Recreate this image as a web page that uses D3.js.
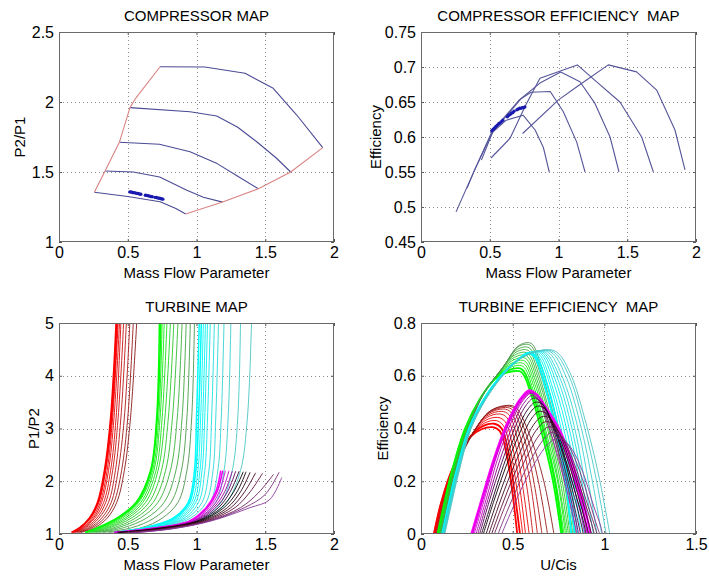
<!DOCTYPE html>
<html>
<head>
<meta charset="utf-8">
<script src="https://cdn.jsdelivr.net/npm/d3@7"></script>
<style>
  body { margin: 0; background: #fff; }
  text { font-family: "Liberation Sans", Arial, Helvetica, sans-serif; fill: #000; }
</style>
</head>
<body>
<svg id="fig" width="709" height="578"></svg>
<script>
// ---------------- Compressor map ----------------
const compSurge = [[0.257,1.355],[0.335,1.507],[0.439,1.712],[0.516,1.96],[0.56,2.03],[0.735,2.252]];
const compChoke = [[0.921,1.2],[1.19,1.285],[1.45,1.38],[1.685,1.5],[1.918,1.674]];
const compSpeedLines = [
  [[0.257,1.355],[0.50,1.325],[0.735,1.288],[0.85,1.24],[0.921,1.2]],
  [[0.335,1.507],[0.54,1.5],[0.732,1.464],[0.93,1.37],[1.05,1.32],[1.19,1.285]],
  [[0.439,1.712],[0.73,1.698],[0.953,1.645],[1.15,1.56],[1.30,1.47],[1.45,1.38]],
  [[0.516,1.96],[0.953,1.93],[1.147,1.9],[1.30,1.82],[1.438,1.716],[1.58,1.6],[1.685,1.5]],
  [[0.735,2.252],[1.06,2.25],[1.353,2.205],[1.558,2.098],[1.729,1.907],[1.918,1.674]]
];
const compOpX = [0.515,0.525,0.535,0.545,0.555,0.565,0.575,0.585,0.595,0.628,0.638,0.648,0.658,0.668,0.678,0.698,0.708,0.718,0.728,0.738,0.748,0.755];
const compOpPR = [1.358,1.357,1.354,1.352,1.351,1.347,1.346,1.343,1.341,1.334,1.333,1.330,1.328,1.325,1.323,1.319,1.318,1.315,1.312,1.311,1.308,1.306];

// ---------------- Compressor efficiency ----------------
const compEffLines = [
  [[0.255,0.493],[0.39,0.553],[0.51,0.605],[0.62,0.624],[0.744,0.631],[0.83,0.61],[0.89,0.585],[0.933,0.55]],
  [[0.335,0.527],[0.39,0.553],[0.52,0.607],[0.73,0.655],[0.80,0.664],[0.94,0.665],[1.035,0.636],[1.132,0.593],[1.193,0.55]],
  [[0.439,0.567],[0.53,0.611],[0.715,0.653],[0.865,0.677],[1.016,0.693],[1.156,0.679],[1.265,0.648],[1.375,0.6],[1.44,0.55]],
  [[0.509,0.57],[0.647,0.598],[0.76,0.645],[0.865,0.684],[1.137,0.703],[1.265,0.681],[1.447,0.65],[1.605,0.6],[1.69,0.55]],
  [[0.739,0.605],[1.0,0.653],[1.149,0.674],[1.362,0.703],[1.568,0.693],[1.714,0.667],[1.847,0.61],[1.92,0.553]]
];
const compOpEff = [0.609,0.611,0.613,0.615,0.617,0.619,0.620,0.622,0.624,0.629,0.631,0.632,0.634,0.635,0.637,0.639,0.640,0.641,0.641,0.642,0.642,0.643];

// ---------------- Turbine map (x at each pressure-ratio level) ----------------
const turbPRLevels = [1.03, 1.12, 1.3, 1.6, 2.2, 3.2, 5];
const turbRedX = [
  [0.090,0.150,0.220,0.280,0.330,0.375,0.415],
  [0.095,0.155,0.225,0.285,0.335,0.380,0.420],
  [0.100,0.160,0.230,0.290,0.340,0.385,0.425],
  [0.105,0.170,0.240,0.300,0.350,0.390,0.430],
  [0.110,0.175,0.250,0.310,0.360,0.400,0.440],
  [0.115,0.185,0.260,0.325,0.375,0.415,0.450],
  [0.120,0.195,0.275,0.340,0.390,0.430,0.470],
  [0.130,0.210,0.290,0.360,0.410,0.450,0.490],
  [0.140,0.225,0.310,0.380,0.430,0.475,0.515],
  [0.150,0.240,0.330,0.400,0.455,0.500,0.540],
  [0.160,0.260,0.350,0.420,0.475,0.520,0.565]
];
const turbGreenX = [
  [0.190,0.280,0.420,0.560,0.665,0.710,0.730],
  [0.195,0.290,0.430,0.570,0.670,0.715,0.740],
  [0.200,0.300,0.445,0.580,0.680,0.725,0.750],
  [0.210,0.315,0.460,0.595,0.690,0.735,0.765],
  [0.220,0.330,0.480,0.610,0.705,0.750,0.785],
  [0.230,0.350,0.500,0.630,0.720,0.770,0.810],
  [0.240,0.370,0.525,0.655,0.745,0.795,0.835],
  [0.255,0.400,0.555,0.685,0.775,0.825,0.865],
  [0.270,0.430,0.590,0.720,0.810,0.860,0.895],
  [0.290,0.470,0.635,0.765,0.850,0.895,0.925],
  [0.320,0.530,0.690,0.815,0.890,0.930,0.955],
  [0.360,0.600,0.750,0.865,0.930,0.965,0.985]
];
const turbCyanX = [
  [0.400,0.620,0.830,0.940,0.985,1.000,1.020],
  [0.405,0.630,0.845,0.950,0.995,1.015,1.035],
  [0.410,0.645,0.860,0.965,1.010,1.030,1.050],
  [0.415,0.660,0.875,0.980,1.025,1.045,1.065],
  [0.420,0.675,0.890,0.995,1.040,1.060,1.080],
  [0.430,0.690,0.910,1.015,1.060,1.080,1.100],
  [0.440,0.710,0.930,1.040,1.090,1.110,1.130],
  [0.450,0.730,0.955,1.070,1.120,1.140,1.160],
  [0.460,0.760,0.985,1.100,1.155,1.180,1.200],
  [0.470,0.790,1.015,1.140,1.200,1.230,1.250],
  [0.485,0.820,1.050,1.180,1.260,1.300,1.320],
  [0.500,0.850,1.080,1.220,1.320,1.370,1.400]
];
const turbLowSpeed = [
  [[0.40,1.03],[0.65,1.1],[0.95,1.25],[1.07,1.5],[1.14,1.8],[1.176,2.2]],
  [[0.40,1.03],[0.66,1.1],[0.96,1.25],[1.08,1.5],[1.15,1.8],[1.19,2.2]],
  [[0.41,1.03],[0.67,1.1],[0.97,1.25],[1.095,1.5],[1.165,1.8],[1.21,2.2]],
  [[0.41,1.03],[0.68,1.1],[0.98,1.25],[1.11,1.5],[1.185,1.8],[1.236,2.2]],
  [[0.42,1.03],[0.69,1.1],[0.99,1.25],[1.125,1.5],[1.205,1.8],[1.26,2.19]],
  [[0.42,1.03],[0.70,1.1],[1.00,1.25],[1.14,1.5],[1.225,1.8],[1.285,2.19]],
  [[0.43,1.03],[0.71,1.1],[1.01,1.25],[1.16,1.5],[1.245,1.8],[1.31,2.19]],
  [[0.44,1.03],[0.72,1.1],[1.02,1.25],[1.18,1.5],[1.27,1.8],[1.34,2.18]],
  [[0.44,1.02],[0.73,1.1],[1.03,1.25],[1.20,1.5],[1.295,1.8],[1.36,2.18]],
  [[0.45,1.02],[0.745,1.1],[1.045,1.25],[1.225,1.5],[1.32,1.8],[1.39,2.17]],
  [[0.46,1.02],[0.76,1.1],[1.06,1.25],[1.25,1.5],[1.35,1.8],[1.43,2.16]],
  [[0.47,1.02],[0.78,1.1],[1.075,1.25],[1.28,1.5],[1.39,1.8],[1.48,2.15]],
  [[0.47,1.02],[0.80,1.1],[1.09,1.25],[1.32,1.5],[1.45,1.78],[1.56,2.13]],
  [[0.48,1.01],[0.82,1.1],[1.10,1.25],[1.35,1.5],[1.50,1.75],[1.60,2.17]],
  [[0.49,1.01],[0.83,1.1],[1.11,1.25],[1.39,1.5],[1.53,1.645],[1.62,2.07]]
];

// ---------------- Turbine efficiency vs U/Cis ----------------
const effRed = [
  [[0.070,0],[0.110,0.12],[0.170,0.245],[0.270,0.368],[0.330,0.397],[0.390,0.405],[0.430,0.390],[0.470,0.29],[0.500,0.15],[0.525,0]],
  [[0.072,0],[0.112,0.12],[0.172,0.246],[0.270,0.370],[0.340,0.410],[0.400,0.418],[0.440,0.400],[0.480,0.30],[0.510,0.16],[0.540,0]],
  [[0.074,0],[0.114,0.12],[0.174,0.246],[0.272,0.372],[0.345,0.420],[0.410,0.430],[0.450,0.410],[0.490,0.31],[0.525,0.16],[0.555,0]],
  [[0.076,0],[0.116,0.12],[0.176,0.247],[0.274,0.374],[0.350,0.430],[0.420,0.442],[0.460,0.425],[0.500,0.33],[0.540,0.17],[0.570,0]],
  [[0.078,0],[0.118,0.12],[0.178,0.248],[0.276,0.376],[0.355,0.440],[0.430,0.455],[0.470,0.440],[0.515,0.34],[0.555,0.18],[0.590,0]],
  [[0.080,0],[0.120,0.12],[0.180,0.248],[0.278,0.378],[0.360,0.448],[0.440,0.465],[0.480,0.452],[0.530,0.35],[0.575,0.19],[0.610,0]],
  [[0.082,0],[0.122,0.12],[0.182,0.249],[0.280,0.380],[0.365,0.455],[0.450,0.474],[0.490,0.462],[0.545,0.36],[0.595,0.20],[0.635,0]],
  [[0.085,0],[0.125,0.12],[0.185,0.250],[0.282,0.382],[0.370,0.460],[0.460,0.480],[0.500,0.470],[0.560,0.37],[0.615,0.20],[0.660,0]],
  [[0.088,0],[0.128,0.12],[0.188,0.250],[0.285,0.384],[0.375,0.465],[0.470,0.485],[0.510,0.475],[0.575,0.375],[0.640,0.20],[0.690,0]],
  [[0.092,0],[0.132,0.12],[0.192,0.250],[0.288,0.386],[0.380,0.468],[0.480,0.488],[0.520,0.478],[0.590,0.38],[0.670,0.20],[0.725,0]]
];
const effGreen = [
  [[0.090,0],[0.125,0.11],[0.165,0.23],[0.240,0.40],[0.320,0.510],[0.400,0.585],[0.460,0.610],[0.545,0.615],[0.600,0.53],[0.660,0.380],[0.720,0.2],[0.765,0]],
  [[0.092,0],[0.127,0.11],[0.167,0.23],[0.242,0.40],[0.322,0.512],[0.405,0.590],[0.470,0.620],[0.550,0.625],[0.605,0.54],[0.670,0.385],[0.730,0.2],[0.772,0]],
  [[0.094,0],[0.129,0.11],[0.169,0.23],[0.244,0.40],[0.324,0.514],[0.410,0.595],[0.480,0.630],[0.555,0.636],[0.610,0.55],[0.675,0.390],[0.735,0.2],[0.780,0]],
  [[0.096,0],[0.131,0.11],[0.171,0.23],[0.246,0.40],[0.326,0.516],[0.415,0.600],[0.490,0.640],[0.560,0.646],[0.615,0.56],[0.680,0.395],[0.745,0.2],[0.788,0]],
  [[0.098,0],[0.133,0.11],[0.173,0.23],[0.248,0.40],[0.328,0.518],[0.420,0.605],[0.500,0.650],[0.565,0.656],[0.620,0.57],[0.690,0.400],[0.750,0.2],[0.796,0]],
  [[0.100,0],[0.135,0.11],[0.175,0.23],[0.250,0.40],[0.330,0.520],[0.425,0.610],[0.505,0.660],[0.570,0.666],[0.625,0.58],[0.695,0.405],[0.760,0.2],[0.804,0]],
  [[0.102,0],[0.137,0.11],[0.177,0.23],[0.252,0.40],[0.332,0.522],[0.430,0.615],[0.510,0.670],[0.575,0.676],[0.630,0.59],[0.700,0.410],[0.770,0.2],[0.812,0]],
  [[0.104,0],[0.139,0.11],[0.179,0.23],[0.254,0.40],[0.334,0.524],[0.435,0.620],[0.515,0.680],[0.580,0.686],[0.635,0.60],[0.710,0.415],[0.780,0.2],[0.820,0]],
  [[0.106,0],[0.141,0.11],[0.181,0.23],[0.256,0.40],[0.336,0.526],[0.440,0.625],[0.520,0.690],[0.585,0.696],[0.640,0.61],[0.715,0.420],[0.785,0.2],[0.828,0]],
  [[0.108,0],[0.143,0.11],[0.183,0.23],[0.258,0.40],[0.338,0.528],[0.445,0.630],[0.525,0.700],[0.590,0.706],[0.645,0.62],[0.725,0.425],[0.795,0.2],[0.836,0]],
  [[0.110,0],[0.145,0.11],[0.185,0.23],[0.260,0.40],[0.340,0.530],[0.450,0.635],[0.530,0.710],[0.595,0.716],[0.650,0.63],[0.730,0.430],[0.800,0.2],[0.845,0]],
  [[0.112,0],[0.147,0.11],[0.187,0.23],[0.262,0.40],[0.342,0.532],[0.455,0.640],[0.535,0.715],[0.600,0.723],[0.655,0.64],[0.740,0.435],[0.810,0.2],[0.855,0]]
];
const effCyan = [
  [[0.115,0],[0.150,0.11],[0.190,0.23],[0.262,0.40],[0.342,0.51],[0.435,0.60],[0.520,0.655],[0.580,0.686],[0.620,0.670],[0.680,0.55],[0.740,0.38],[0.790,0.19],[0.820,0]],
  [[0.116,0],[0.151,0.11],[0.191,0.23],[0.263,0.40],[0.343,0.51],[0.436,0.60],[0.522,0.656],[0.590,0.688],[0.630,0.672],[0.695,0.55],[0.755,0.38],[0.805,0.19],[0.838,0]],
  [[0.117,0],[0.152,0.11],[0.192,0.23],[0.264,0.40],[0.344,0.51],[0.437,0.60],[0.524,0.657],[0.600,0.690],[0.640,0.675],[0.710,0.55],[0.770,0.38],[0.820,0.19],[0.855,0]],
  [[0.118,0],[0.153,0.11],[0.193,0.23],[0.265,0.40],[0.345,0.51],[0.438,0.60],[0.526,0.658],[0.610,0.691],[0.650,0.677],[0.720,0.55],[0.785,0.38],[0.835,0.19],[0.872,0]],
  [[0.119,0],[0.154,0.11],[0.194,0.23],[0.266,0.40],[0.346,0.51],[0.439,0.60],[0.528,0.659],[0.620,0.692],[0.660,0.679],[0.735,0.55],[0.800,0.38],[0.850,0.19],[0.890,0]],
  [[0.120,0],[0.155,0.11],[0.195,0.23],[0.267,0.40],[0.347,0.51],[0.440,0.60],[0.530,0.660],[0.630,0.693],[0.670,0.680],[0.745,0.56],[0.815,0.38],[0.865,0.19],[0.905,0]],
  [[0.121,0],[0.156,0.11],[0.196,0.23],[0.268,0.40],[0.348,0.51],[0.441,0.60],[0.532,0.661],[0.640,0.694],[0.680,0.681],[0.755,0.57],[0.830,0.38],[0.880,0.19],[0.920,0]],
  [[0.122,0],[0.157,0.11],[0.197,0.23],[0.269,0.40],[0.349,0.51],[0.442,0.60],[0.534,0.662],[0.650,0.695],[0.690,0.682],[0.770,0.57],[0.845,0.38],[0.895,0.19],[0.940,0]],
  [[0.124,0],[0.159,0.11],[0.199,0.23],[0.270,0.40],[0.350,0.51],[0.443,0.60],[0.536,0.663],[0.660,0.696],[0.705,0.683],[0.780,0.58],[0.860,0.39],[0.915,0.19],[0.960,0]],
  [[0.126,0],[0.161,0.11],[0.201,0.23],[0.271,0.40],[0.351,0.51],[0.444,0.60],[0.538,0.664],[0.670,0.697],[0.720,0.684],[0.795,0.59],[0.875,0.40],[0.935,0.20],[0.985,0]],
  [[0.128,0],[0.163,0.11],[0.203,0.23],[0.272,0.40],[0.352,0.51],[0.445,0.60],[0.540,0.665],[0.685,0.698],[0.735,0.684],[0.810,0.595],[0.890,0.41],[0.955,0.21],[1.010,0]],
  [[0.130,0],[0.165,0.11],[0.205,0.23],[0.273,0.40],[0.353,0.51],[0.446,0.60],[0.542,0.666],[0.700,0.699],[0.750,0.684],[0.820,0.600],[0.900,0.42],[0.970,0.22],[1.030,0]]
];
const effLowSpeed = [
  [[0.275,0],[0.330,0.13],[0.400,0.29],[0.470,0.42],[0.540,0.51],[0.590,0.545],[0.630,0.530],[0.700,0.46],[0.760,0.39],[0.830,0.26],[0.890,0.11],[0.925,0]],
  [[0.280,0],[0.335,0.13],[0.405,0.29],[0.475,0.42],[0.545,0.51],[0.595,0.540],[0.635,0.525],[0.700,0.45],[0.760,0.37],[0.825,0.24],[0.880,0.10],[0.910,0]],
  [[0.290,0],[0.345,0.13],[0.410,0.29],[0.480,0.42],[0.550,0.505],[0.600,0.535],[0.640,0.520],[0.700,0.44],[0.760,0.34],[0.820,0.21],[0.870,0.08],[0.895,0]],
  [[0.300,0],[0.355,0.13],[0.420,0.29],[0.490,0.42],[0.555,0.505],[0.600,0.533],[0.640,0.510],[0.690,0.42],[0.740,0.31],[0.790,0.18],[0.835,0.05],[0.850,0]],
  [[0.310,0],[0.365,0.13],[0.430,0.28],[0.500,0.41],[0.560,0.495],[0.605,0.525],[0.645,0.505],[0.700,0.42],[0.750,0.31],[0.800,0.18],[0.845,0.05],[0.860,0]],
  [[0.320,0],[0.375,0.13],[0.440,0.27],[0.510,0.40],[0.570,0.485],[0.615,0.515],[0.655,0.500],[0.710,0.42],[0.760,0.31],[0.810,0.18],[0.855,0.05],[0.870,0]],
  [[0.330,0],[0.385,0.12],[0.450,0.26],[0.520,0.385],[0.580,0.470],[0.625,0.500],[0.665,0.490],[0.720,0.41],[0.775,0.30],[0.825,0.17],[0.870,0.05],[0.885,0]],
  [[0.340,0],[0.395,0.12],[0.460,0.25],[0.530,0.370],[0.590,0.455],[0.635,0.485],[0.675,0.475],[0.730,0.40],[0.785,0.29],[0.840,0.16],[0.885,0.05],[0.900,0]],
  [[0.355,0],[0.410,0.115],[0.475,0.24],[0.545,0.355],[0.600,0.435],[0.645,0.465],[0.685,0.455],[0.740,0.39],[0.800,0.28],[0.855,0.15],[0.900,0.04],[0.915,0]],
  [[0.370,0],[0.425,0.11],[0.490,0.23],[0.560,0.340],[0.615,0.415],[0.660,0.445],[0.700,0.440],[0.755,0.38],[0.815,0.27],[0.870,0.15],[0.915,0.04],[0.930,0]],
  [[0.385,0],[0.440,0.105],[0.505,0.22],[0.575,0.325],[0.630,0.395],[0.675,0.425],[0.715,0.420],[0.770,0.365],[0.830,0.26],[0.885,0.14],[0.930,0.04],[0.945,0]],
  [[0.400,0],[0.455,0.10],[0.520,0.21],[0.590,0.310],[0.645,0.375],[0.690,0.405],[0.730,0.400],[0.785,0.35],[0.845,0.25],[0.900,0.13],[0.945,0.035],[0.960,0]],
  [[0.420,0],[0.475,0.095],[0.540,0.20],[0.610,0.295],[0.665,0.355],[0.710,0.385],[0.750,0.380],[0.805,0.335],[0.865,0.24],[0.920,0.12],[0.960,0.03],[0.975,0]],
  [[0.440,0],[0.495,0.09],[0.560,0.19],[0.630,0.280],[0.685,0.335],[0.730,0.360],[0.770,0.360],[0.825,0.32],[0.885,0.23],[0.940,0.11],[0.980,0.03],[0.990,0]]
];

// ---------------- Axis ticks and labels ----------------
const massFlowTicks = [0, 0.5, 1, 1.5, 2];
const massFlowLabels = ["0", "0.5", "1", "1.5", "2"];
const compPRTicks = [1, 1.5, 2, 2.5];
const compPRLabels = ["1", "1.5", "2", "2.5"];
const compEffTicks = [0.45, 0.5, 0.55, 0.6, 0.65, 0.7, 0.75];
const compEffLabels = ["0.45", "0.5", "0.55", "0.6", "0.65", "0.7", "0.75"];
const turbPRTicks = [1, 2, 3, 4, 5];
const turbPRLabels = ["1", "2", "3", "4", "5"];
const ucTicks = [0, 0.5, 1, 1.5];
const ucLabels = ["0", "0.5", "1", "1.5"];
const turbEffTicks = [0, 0.2, 0.4, 0.6, 0.8];
const turbEffLabels = ["0", "0.2", "0.4", "0.6", "0.8"];

// ---------------- Drawing ----------------
const svg = d3.select("#fig");
const FONT = 15;
const TICK_FONT = 16;
const TICK = 3;

function makeAxes(cfg) {
  const x = d3.scaleLinear().domain(cfg.xDomain).range([cfg.left, cfg.right]);
  const y = d3.scaleLinear().domain(cfg.yDomain).range([cfg.bottom, cfg.top]);
  const g = svg.append("g");
  const clipId = "clip-" + cfg.id;
  svg.append("clipPath").attr("id", clipId).append("rect")
    .attr("x", cfg.left).attr("y", cfg.top)
    .attr("width", cfg.right - cfg.left).attr("height", cfg.bottom - cfg.top);

  // dotted grid at interior ticks
  const grid = g.append("g").attr("stroke", "#8c8c8c").attr("stroke-width", 1)
    .attr("stroke-dasharray", "1,3");
  grid.selectAll(".gx").data(cfg.xTicks.filter(t => t > cfg.xDomain[0] && t < cfg.xDomain[1]))
    .join("line").attr("x1", d => Math.round(x(d)) + 0.5).attr("x2", d => Math.round(x(d)) + 0.5)
    .attr("y1", cfg.top).attr("y2", cfg.bottom);
  grid.selectAll(".gy").data(cfg.yTicks.filter(t => t > cfg.yDomain[0] && t < cfg.yDomain[1]))
    .join("line").attr("y1", d => Math.round(y(d)) + 0.5).attr("y2", d => Math.round(y(d)) + 0.5)
    .attr("x1", cfg.left).attr("x2", cfg.right);

  const plot = g.append("g").attr("clip-path", `url(#${clipId})`);

  function finish() {
    const style = sel => {
      sel.select(".domain").remove();
      sel.selectAll(".tick line").attr("stroke", "#555");
      sel.selectAll("text").attr("font-family", null).attr("font-size", TICK_FONT).attr("fill", "#000");
      sel.attr("font-family", null).attr("font-size", null);
    };
    g.append("g").attr("transform", `translate(0,${cfg.bottom})`)
      .call(d3.axisBottom(x).tickValues(cfg.xTicks).tickFormat((d, i) => cfg.xLabels[i])
        .tickSizeInner(-TICK).tickSizeOuter(0).tickPadding(5)).call(style);
    g.append("g").attr("transform", `translate(0,${cfg.top})`)
      .call(d3.axisTop(x).tickValues(cfg.xTicks).tickFormat("")
        .tickSizeInner(-TICK).tickSizeOuter(0)).call(style);
    g.append("g").attr("transform", `translate(${cfg.left},0)`)
      .call(d3.axisLeft(y).tickValues(cfg.yTicks).tickFormat((d, i) => cfg.yLabels[i])
        .tickSizeInner(-TICK).tickSizeOuter(0).tickPadding(5)).call(style);
    g.append("g").attr("transform", `translate(${cfg.right},0)`)
      .call(d3.axisRight(y).tickValues(cfg.yTicks).tickFormat("")
        .tickSizeInner(-TICK).tickSizeOuter(0)).call(style);

    g.append("rect").attr("x", cfg.left + 0.5).attr("y", cfg.top + 0.5)
      .attr("width", cfg.right - cfg.left - 1).attr("height", cfg.bottom - cfg.top - 1)
      .attr("fill", "none").attr("stroke", "#6a6a6a").attr("stroke-width", 1);

    const cx = (cfg.left + cfg.right) / 2, cy = (cfg.top + cfg.bottom) / 2;
    g.append("text").attr("x", cx).attr("y", cfg.top - 11).attr("text-anchor", "middle")
      .attr("font-size", FONT).style("white-space", "pre").text(cfg.title);
    g.append("text").attr("x", cx).attr("y", cfg.bottom + 36).attr("text-anchor", "middle")
      .attr("font-size", FONT).text(cfg.xTitle);
    g.append("text").attr("transform", `translate(${cfg.yTitleX},${cy}) rotate(-90)`)
      .attr("text-anchor", "middle").attr("font-size", FONT).text(cfg.yTitle);
  }
  return { x, y, plot, finish };
}

// Draws one family of curves; the first (lowest-index) curves of a family are
// stacked on top of each other, so they are stroked a little heavier.
function drawCurves(ax, curves, colorOf, width, curve, leadWidth) {
  const line = d3.line().x(d => ax.x(d[0])).y(d => ax.y(d[1])).curve(curve);
  ax.plot.append("g").attr("fill", "none")
    .attr("stroke-linejoin", "round")
    .selectAll("path").data(curves).join("path")
    .attr("stroke", (d, i) => colorOf(i, curves.length))
    .attr("stroke-width", (d, i) => (leadWidth && i < 2) ? leadWidth : width)
    .attr("d", line);
}

const shade = stops => {
  const interp = d3.piecewise(d3.interpolateRgb, stops);
  return (i, n) => interp(n > 1 ? i / (n - 1) : 0);
};
const redShade   = shade(["#ff0000", "#f20000", "#c01515", "#8a1a1a"]);
const greenShade = shade(["#00ff00", "#12e612", "#36b836", "#4f934f"]);
const cyanShade  = shade(["#00ffff", "#00f0f0", "#2fd6d6", "#4fc4c4"]);
const lowShade   = shade(["#ff00ff", "#b000b0", "#000000", "#5a0c2c", "#8a3a9a"]);
const smooth = d3.curveCatmullRom.alpha(0.5);

// 1. Compressor map
const a1 = makeAxes({
  id: "cmap", left: 59, right: 334, top: 32, bottom: 242,
  xDomain: [0, 2], yDomain: [1, 2.5],
  xTicks: massFlowTicks, xLabels: massFlowLabels, yTicks: compPRTicks, yLabels: compPRLabels,
  title: "COMPRESSOR MAP", xTitle: "Mass Flow Parameter", yTitle: "P2/P1", yTitleX: 25
});
drawCurves(a1, compSpeedLines, () => "#4b4b95", 1.1, d3.curveLinear);
drawCurves(a1, [compSurge, compChoke], () => "#d98484", 1.1, d3.curveLinear);
a1.plot.append("g").attr("fill", "#1a1ab0").selectAll("circle")
  .data(compOpX.map((v, i) => [v, compOpPR[i]])).join("circle")
  .attr("cx", d => a1.x(d[0])).attr("cy", d => a1.y(d[1])).attr("r", 1.7);
a1.finish();

// 2. Compressor efficiency map
const a2 = makeAxes({
  id: "ceff", left: 421, right: 696, top: 32, bottom: 242,
  xDomain: [0, 2], yDomain: [0.45, 0.75],
  xTicks: massFlowTicks, xLabels: massFlowLabels, yTicks: compEffTicks, yLabels: compEffLabels,
  title: "COMPRESSOR EFFICIENCY  MAP", xTitle: "Mass Flow Parameter", yTitle: "Efficiency", yTitleX: 381
});
drawCurves(a2, compEffLines, () => "#55559a", 1.1, d3.curveLinear);
a2.plot.append("g").attr("fill", "#1a1ab0").selectAll("circle")
  .data(compOpX.map((v, i) => [v, compOpEff[i]])).join("circle")
  .attr("cx", d => a2.x(d[0])).attr("cy", d => a2.y(d[1])).attr("r", 1.7);
a2.finish();

// 3. Turbine map
const a3 = makeAxes({
  id: "tmap", left: 59, right: 334, top: 323, bottom: 534,
  xDomain: [0, 2], yDomain: [1, 5],
  xTicks: massFlowTicks, xLabels: massFlowLabels, yTicks: turbPRTicks, yLabels: turbPRLabels,
  title: "TURBINE MAP", xTitle: "Mass Flow Parameter", yTitle: "P1/P2", yTitleX: 39
});
const withLevels = xs => xs.map((v, i) => [v, turbPRLevels[i]]);
drawCurves(a3, turbRedX.map(withLevels), redShade, 0.9, smooth, 1.5);
drawCurves(a3, turbGreenX.map(withLevels), greenShade, 0.9, smooth, 1.5);
drawCurves(a3, turbCyanX.map(withLevels), cyanShade, 0.9, smooth, 1.5);
drawCurves(a3, turbLowSpeed, lowShade, 0.9, smooth, 1.5);
a3.finish();

// 4. Turbine efficiency map
const a4 = makeAxes({
  id: "teff", left: 421, right: 696, top: 323, bottom: 534,
  xDomain: [0, 1.5], yDomain: [0, 0.8],
  xTicks: ucTicks, xLabels: ucLabels, yTicks: turbEffTicks, yLabels: turbEffLabels,
  title: "TURBINE EFFICIENCY  MAP", xTitle: "U/Cis", yTitle: "Efficiency", yTitleX: 388
});
drawCurves(a4, effRed, redShade, 0.9, smooth, 1.8);
drawCurves(a4, effGreen, greenShade, 0.9, smooth, 1.8);
drawCurves(a4, effCyan, cyanShade, 0.9, smooth, 1.8);
drawCurves(a4, effLowSpeed, lowShade, 0.9, smooth, 2.2);
a4.finish();
</script>
</body>
</html>
